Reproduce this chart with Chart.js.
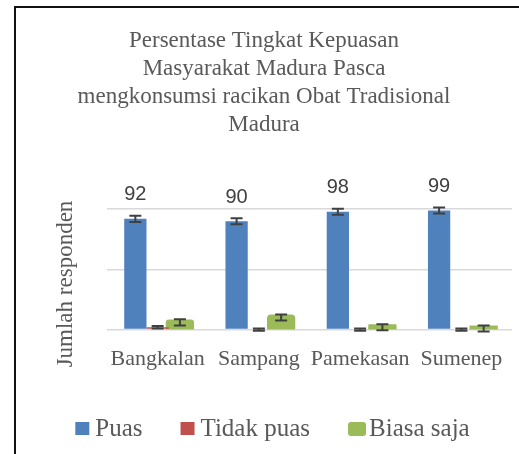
<!DOCTYPE html>
<html>
<head>
<meta charset="utf-8">
<script src="https://cdn.jsdelivr.net/npm/chart.js@4"></script>
<style>
  body { margin: 0; background: #fff; }
  #wrap { position: relative; width: 519px; height: 454px; overflow: hidden; }
  #frame { position: absolute; left: 14px; top: 6px; width: 700px; height: 700px;
           border-left: 2px solid #111; border-top: 2px solid #111; }
  #chart { position: absolute; left: 16px; top: 0; }
</style>
</head>
<body>
<div id="wrap">
  <div id="frame"></div>
  <canvas id="chart" width="508" height="454"></canvas>
</div>
<script>
// data
var categories = ['Bangkalan', 'Sampang', 'Pamekasan', 'Sumenep']
var puas = [92, 90, 98, 99]
var tidakPuas = [2, 0, 0, 0]
var biasaSaja = [6, 10, 2, 1]
var puasErr = [2.5, 2.5, 2.5, 2.5]
var tidakPuasErr = [1, 1, 1, 1]
var biasaSajaErr = [2.5, 2.5, 2.5, 2.5]
var yTicks = [0, 50, 100]
var yTitle = 'Jumlah responden'

var serif = "'Liberation Serif', 'Times New Roman', serif"
Chart.defaults.font.family = serif
Chart.defaults.color = '#595959'

// error bars, value labels, y title and the legend
var extrasPlugin = {
    id: 'extras',
    afterDatasetsDraw: function(chart) {
        var ctx = chart.ctx
        var y = chart.scales.y
        var errs = [puasErr, tidakPuasErr, biasaSajaErr]
        ctx.save()
        chart.data.datasets.forEach(function(ds, i) {
            var meta = chart.getDatasetMeta(i)
            meta.data.forEach(function(bar, j) {
                var v = ds.data[j]
                var top = y.getPixelForValue(v + errs[i][j])
                var bot = y.getPixelForValue(v - errs[i][j])
                ctx.strokeStyle = '#404040'
                ctx.lineWidth = 2
                ctx.beginPath()
                ctx.moveTo(bar.x, top); ctx.lineTo(bar.x, bot)
                ctx.moveTo(bar.x - 6, top); ctx.lineTo(bar.x + 6, top)
                ctx.moveTo(bar.x - 6, bot); ctx.lineTo(bar.x + 6, bot)
                ctx.stroke()
            })
        })
        // value labels for Puas
        var meta0 = chart.getDatasetMeta(0)
        ctx.fillStyle = '#404040'
        ctx.font = "20px 'Liberation Sans', Arial, sans-serif"
        ctx.textAlign = 'center'
        ctx.textBaseline = 'middle'
        meta0.data.forEach(function(bar, j) {
            ctx.fillText(String(puas[j]), bar.x, bar.y - 24)
        })
        ctx.restore()
    },
    afterDraw: function(chart) {
        var ctx = chart.ctx
        ctx.save()
        // y axis title
        ctx.fillStyle = '#595959'
        ctx.font = '23px ' + serif
        ctx.textAlign = 'center'
        ctx.textBaseline = 'middle'
        ctx.save()
        ctx.translate(50, 284)
        ctx.rotate(-Math.PI / 2)
        ctx.fillText(yTitle, 0, 0)
        ctx.restore()

        // legend
        ctx.font = '25px ' + serif
        ctx.textAlign = 'left'
        ctx.textBaseline = 'alphabetic'
        var items = chart.data.datasets.map(function(ds) {
            var wide = ds.inflateAmount > 0
            return { text: ds.label, color: ds.backgroundColor,
                     box: wide ? 18 : 14, gap: wide ? 3 : 6, round: wide,
                     w: ctx.measureText(ds.label).width }
        })
        var spacing = 38
        var total = 0
        items.forEach(function(it, k) {
            total += it.box + it.gap + it.w + (k ? spacing : 0)
        })
        var x = 256.5 - total / 2
        var baseY = 436
        items.forEach(function(it) {
            ctx.fillStyle = it.color
            ctx.beginPath()
            if (it.round) ctx.roundRect(x, 422, it.box, 14, 3)
            else ctx.rect(x, 422, it.box, 13)
            ctx.fill()
            ctx.fillStyle = '#595959'
            ctx.fillText(it.text, x + it.box + it.gap, baseY)
            x += it.box + it.gap + it.w + spacing
        })
        ctx.restore()
    }
}

new Chart(document.getElementById('chart'), {
    type: 'bar',
    data: {
        labels: categories,
        datasets: [
            { label: 'Puas', data: puas, backgroundColor: '#4f81bd',
              barPercentage: 1, categoryPercentage: 0.66, inflateAmount: 0 },
            { label: 'Tidak puas', data: tidakPuas, backgroundColor: '#c0504d',
              barPercentage: 1, categoryPercentage: 0.66, inflateAmount: 0 },
            { label: 'Biasa saja', data: biasaSaja, backgroundColor: '#9bbb59',
              barPercentage: 1, categoryPercentage: 0.66, inflateAmount: 3,
              borderRadius: 4, borderSkipped: false }
        ]
    },
    options: {
        responsive: false,
        animation: false,
        layout: { padding: { left: 0, right: 12, top: 0, bottom: 74 } },
        plugins: {
            tooltip: { enabled: false },
            legend: { display: false },
            title: {
                display: true,
                text: ['Persentase Tingkat Kepuasan', 'Masyarakat Madura Pasca',
                       'mengkonsumsi racikan Obat Tradisional', 'Madura'],
                color: '#595959',
                font: { family: serif, size: 23, weight: 'normal', lineHeight: 1.22 },
                padding: { top: 27, bottom: 70 }
            }
        },
        scales: {
            x: {
                grid: { display: false },
                border: { display: false },
                ticks: { color: '#595959', font: { family: serif, size: 22 }, padding: 8,
                         maxRotation: 0, minRotation: 0, autoSkip: false }
            },
            y: {
                min: 0,
                max: 100,
                afterBuildTicks: function(scale) {
                    scale.ticks = yTicks.map(function(v) { return { value: v } })
                },
                afterFit: function(scale) { scale.width = 91 },
                ticks: { display: false },
                grid: { color: '#d9d9d9', lineWidth: 1.5, drawTicks: false },
                border: { display: false }
            }
        }
    },
    plugins: [extrasPlugin]
});
</script>
</body>
</html>
